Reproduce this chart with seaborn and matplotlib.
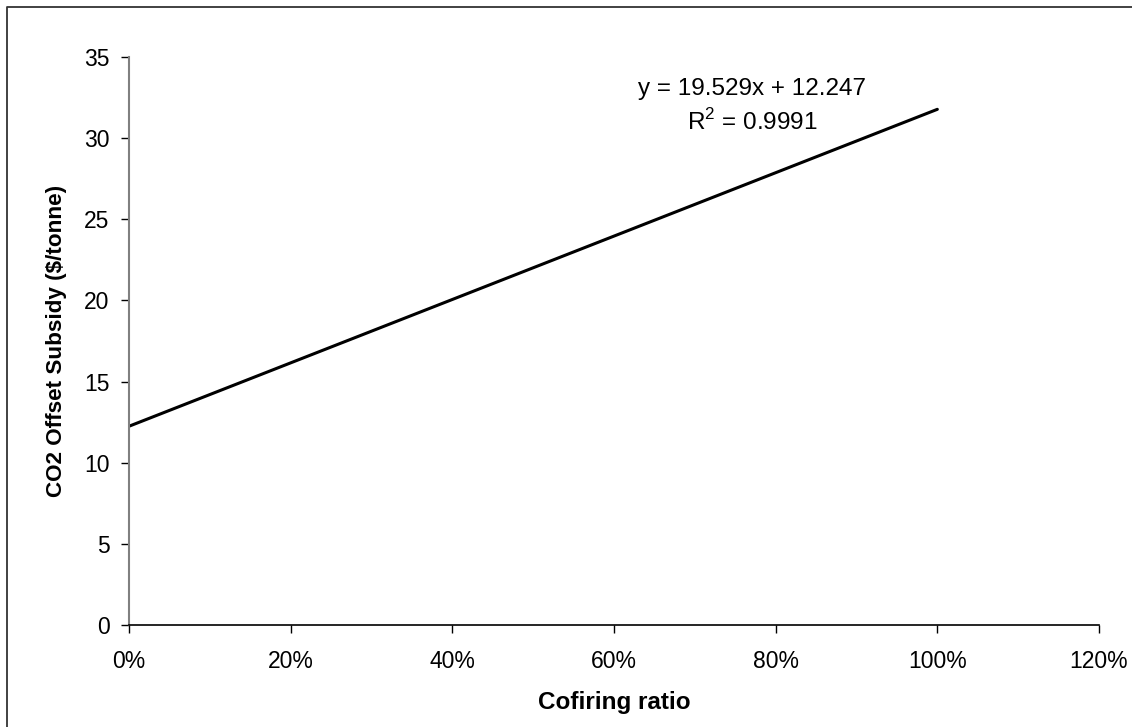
import matplotlib
matplotlib.use("Agg")
import matplotlib.pyplot as plt
import seaborn as sns
import pandas as pd
from matplotlib.ticker import PercentFormatter
from matplotlib.lines import Line2D

cofiring_ratio = [0.0, 1.0]
subsidy = [12.247, 31.776]
equation_text = "y = 19.529x + 12.247"
r2_text = "R$^2$ = 0.9991"
x_ticks = [0.0, 0.2, 0.4, 0.6, 0.8, 1.0, 1.2]
y_ticks = [0, 5, 10, 15, 20, 25, 30, 35]

sns.set_style("white")
plt.rcParams['font.family'] = ['Liberation Sans', 'DejaVu Sans']
plt.rcParams['text.color'] = 'black'
plt.rcParams['axes.labelcolor'] = 'black'
plt.rcParams['xtick.color'] = 'black'
plt.rcParams['ytick.color'] = 'black'
plt.rcParams['mathtext.fontset'] = 'custom'
plt.rcParams['mathtext.rm'] = 'Liberation Sans'

df = pd.DataFrame({"ratio": cofiring_ratio, "subsidy": subsidy})

fig = plt.figure(figsize=(11.32, 7.27), dpi=100)
ax = fig.add_axes([129/1132, 1 - 625/727, (1099 - 129)/1132, (625 - 57)/727])

sns.lineplot(data=df, x="ratio", y="subsidy", ax=ax, color="black", linewidth=2.2)

ax.set_xlim(0, 1.2)
ax.set_ylim(0, 35)
ax.set_xticks(x_ticks)
ax.set_yticks(y_ticks)
ax.xaxis.set_major_formatter(PercentFormatter(xmax=1, decimals=0))
ax.tick_params(axis="both", which="major", labelsize=16.5, length=6, width=1,
               direction="out", pad=8, bottom=True, left=True)
ax.tick_params(axis="x", pad=12)
for s in ["top", "right"]:
    ax.spines[s].set_visible(False)
ax.spines["left"].set_color("#808080")
ax.spines["left"].set_linewidth(1.5)
ax.spines["bottom"].set_color("black")
ax.spines["bottom"].set_linewidth(1.2)

ax.set_xlabel("Cofiring ratio", fontsize=17.5, fontweight="bold", labelpad=13)
ax.set_ylabel("CO2 Offset Subsidy ($/tonne)", fontsize=16.2, fontweight="bold", labelpad=12)

ax.text(0.771, 33.05, equation_text, fontsize=17.5, ha="center", va="center")
ax.text(0.771, 31.0, r2_text, fontsize=17.5, ha="center", va="center")

# outer chart border (top and left edges visible)
fig.lines.append(Line2D([7/1132, 7/1132, 1.0], [0.0, 1 - 6.5/727, 1 - 6.5/727],
                        transform=fig.transFigure, color="#333333", linewidth=1.3))

fig.savefig("out.png", dpi=100)
